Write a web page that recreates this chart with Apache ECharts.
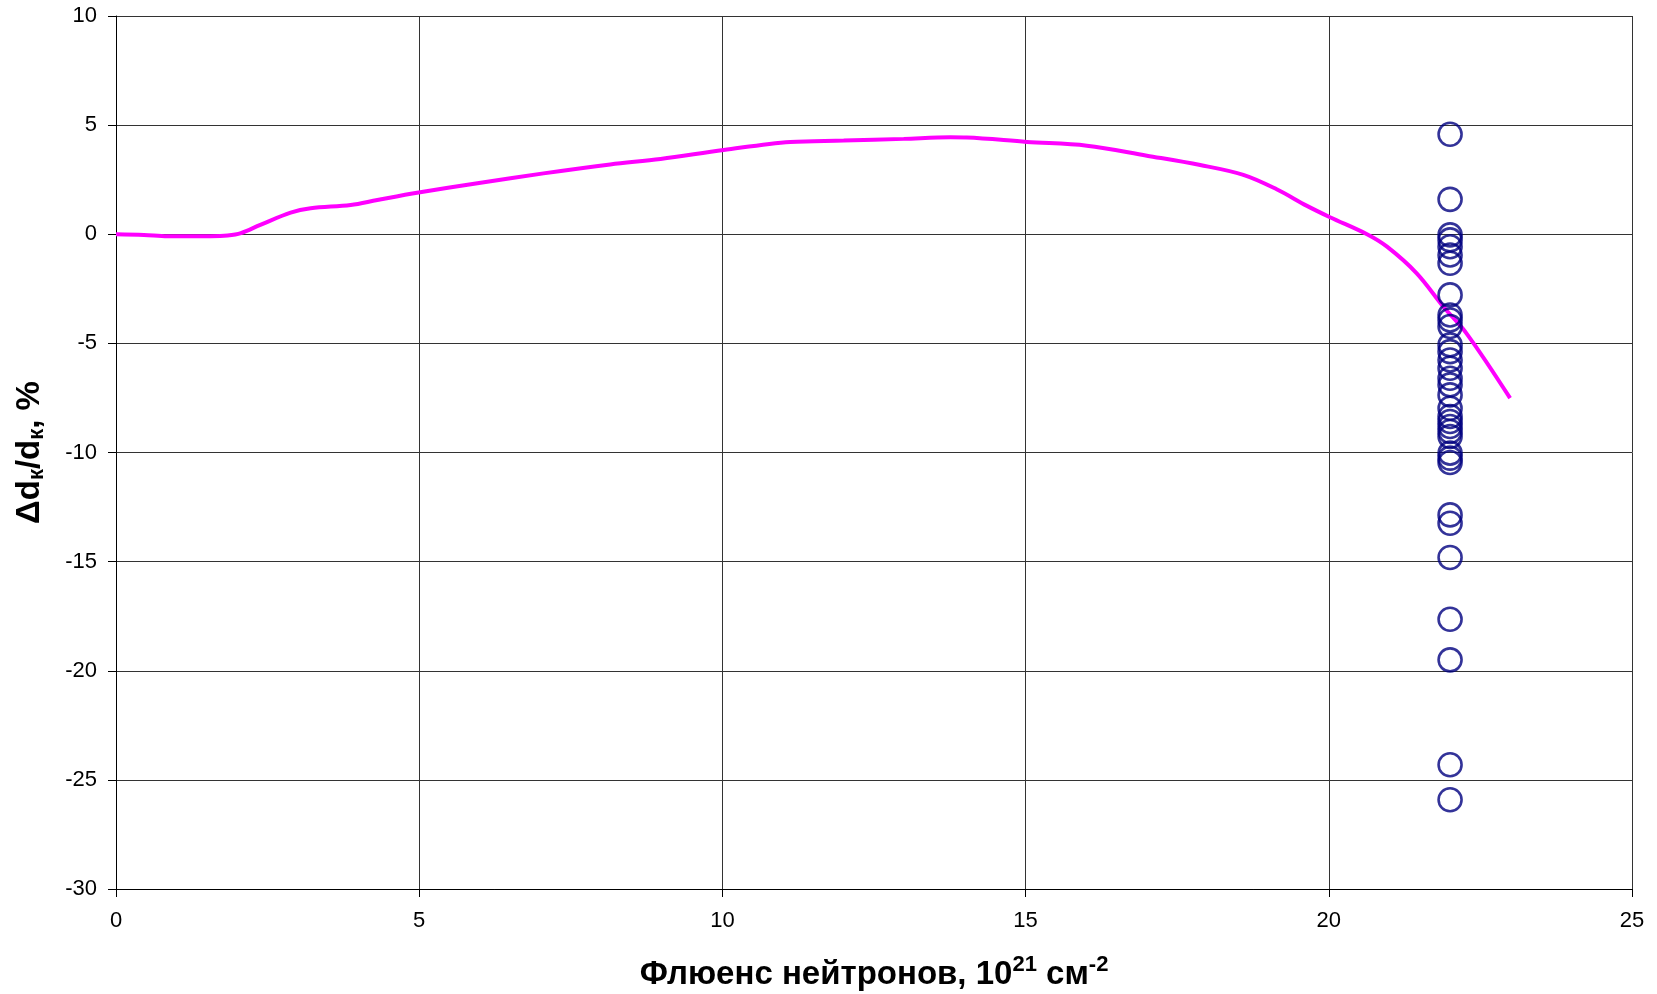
<!DOCTYPE html>
<html>
<head>
<meta charset="utf-8">
<script src="https://cdn.jsdelivr.net/npm/echarts@6/dist/echarts.min.js"></script>
<style>
html,body{margin:0;padding:0;background:#fff;}
#chart{width:1657px;height:994px;}
</style>
</head>
<body>
<div id="chart"></div>
<script>
// Model curve (fluence, 10^21 cm^-2 vs Δd/d, %)
const curveX = [0,0.46,0.85,1.56,1.84,2.06,2.38,2.88,3.21,3.87,4.31,4.99,5.96,7.05,8.15,8.98,10.02,11.12,12.0,12.99,13.76,14.03,15.02,16.01,17.0,17.88,18.59,19.14,19.64,20.02,20.63,20.96,21.45,21.89,22.27,22.99];
const curveY = [0,-0.03,-0.09,-0.09,-0.06,0.05,0.43,0.99,1.19,1.34,1.57,1.91,2.34,2.79,3.2,3.45,3.86,4.23,4.29,4.37,4.44,4.43,4.23,4.06,3.6,3.17,2.72,2.06,1.30,0.78,0,-0.57,-1.79,-3.32,-4.54,-7.51];

// Measured points (all at fluence 22)
const pointX = 22;
const pointY = [4.58,1.60,-0.03,-0.26,-0.57,-0.95,-1.33,-2.78,-3.70,-3.93,-4.23,-5.07,-5.38,-5.76,-6.14,-6.60,-6.90,-7.36,-7.97,-8.35,-8.58,-8.81,-9.04,-9.27,-10.03,-10.26,-10.46,-12.86,-13.24,-14.81,-17.64,-19.5,-24.31,-25.91];

const xTicks = {min:0, max:25, interval:5};
const yTicks = {min:-30, max:10, interval:5};

const chart = echarts.init(document.getElementById('chart'), null, {renderer:'canvas'});
const font = '"Liberation Sans", Arial, sans-serif';
chart.setOption({
  animation:false,
  backgroundColor:'#fff',
  grid:{left:116, right:25, top:16, bottom:105, containLabel:false, outerBoundsMode:'none'},
  xAxis:{
    type:'value', min:xTicks.min, max:xTicks.max, interval:xTicks.interval,
    axisLine:{show:true, onZero:false, lineStyle:{color:'#000', width:1}},
    axisTick:{show:true, inside:false, length:8, lineStyle:{color:'#000'}},
    axisLabel:{color:'#000', fontSize:22, fontFamily:font, margin:21},
    splitLine:{show:true, lineStyle:{color:'#333', width:1}},
    name:'{b|Флюенс нейтронов, 10}{sup|21}{b| см}{sup|-2}',
    nameLocation:'middle', nameGap:65,
    nameTextStyle:{
      rich:{
        b:{fontSize:33, fontWeight:'bold', fontFamily:font, color:'#000'},
        sup:{fontSize:22, fontWeight:'bold', fontFamily:font, color:'#000', padding:[0,0,20,0]}
      }
    }
  },
  yAxis:{
    type:'value', min:yTicks.min, max:yTicks.max, interval:yTicks.interval,
    axisLine:{show:true, onZero:false, lineStyle:{color:'#000', width:1}},
    axisTick:{show:true, inside:false, length:8, lineStyle:{color:'#000'}},
    axisLabel:{color:'#000', fontSize:22, fontFamily:font, margin:19},
    splitLine:{show:true, lineStyle:{color:'#333', width:1}},
    name:'{b|Δd}{sub|к}{b|/d}{sub|к}{b|, %}',
    nameLocation:'middle', nameGap:68, nameRotate:90,
    nameTextStyle:{
      rich:{
        b:{fontSize:33, fontWeight:'bold', fontFamily:font, color:'#000'},
        sub:{fontSize:22, fontWeight:'bold', fontFamily:font, color:'#000', padding:[14,0,0,0]}
      }
    }
  },
  series:[
    {
      type:'line',
      data:curveX.map((x,i)=>[x,curveY[i]]),
      smooth:0.35,
      showSymbol:false,
      symbol:'none',
      lineStyle:{color:'#FF00FF', width:4},
      z:2
    },
    {
      type:'scatter',
      data:pointY.map(y=>[pointX,y]),
      symbol:'circle',
      symbolSize:23,
      itemStyle:{color:'rgba(0,0,0,0)', borderColor:'#000080', borderWidth:2.6},
      z:3
    }
  ]
});
</script>
</body>
</html>
